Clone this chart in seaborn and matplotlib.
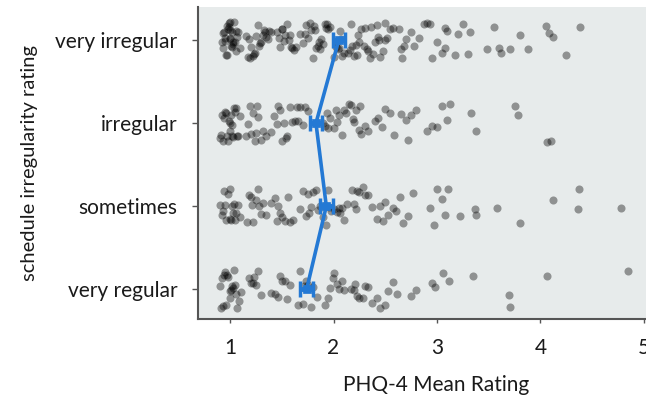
import numpy as np
import pandas as pd
import matplotlib
matplotlib.use("Agg")
import matplotlib.pyplot as plt
import seaborn as sns

categories = ["very irregular", "irregular", "sometimes", "very regular"]

very_irregular = [0.92, 0.93, 0.94, 0.95, 0.96, 0.97, 0.97, 0.98, 0.99, 1.0, 1.0, 1.0, 1.01, 1.02, 1.02, 1.03,
                  1.04, 1.05, 1.06, 1.07, 1.08, 1.1, 0.95, 0.99, 1.03, 1.06, 0.93, 1.0,
                  1.15, 1.17, 1.19, 1.2, 1.22, 1.24, 1.25, 1.27, 1.28, 1.3, 1.32, 1.33, 1.35, 1.37, 1.38, 1.4,
                  1.18, 1.23, 1.29, 1.34,
                  1.45, 1.47, 1.5, 1.5, 1.52, 1.55, 1.57, 1.58, 1.6, 1.62, 1.64, 1.48, 1.53, 1.59,
                  1.68, 1.7, 1.72, 1.75, 1.77, 1.78, 1.8, 1.82, 1.83, 1.85, 1.87, 1.88, 1.9, 1.92, 1.94, 1.95, 1.97,
                  1.73, 1.81, 1.86, 1.93,
                  2.0, 2.02, 2.03, 2.05, 2.06, 2.08, 2.1, 2.04, 2.07,
                  2.14, 2.16, 2.18, 2.2, 2.22, 2.24, 2.25, 2.27, 2.3, 2.32, 2.33, 2.35, 2.38, 2.4, 2.42, 2.44,
                  2.45, 2.48, 2.5, 2.52, 2.55, 2.57, 2.17, 2.23, 2.29, 2.36, 2.43, 2.5,
                  2.63, 2.65, 2.68, 2.7, 2.75, 2.78, 2.66,
                  2.83, 2.87, 2.9, 2.93, 2.95, 3.0, 3.05, 3.08, 3.1, 3.08,
                  3.17, 3.2, 3.25, 3.3, 3.32,
                  3.48, 3.55, 3.6, 3.62, 3.71, 3.8, 3.88, 4.05, 4.08, 4.12, 4.25, 4.38]

irregular = [0.9, 0.91, 0.93, 0.94, 0.95, 0.96, 0.97, 0.98, 1.0, 1.0, 1.01, 1.02, 1.03, 1.04, 1.05, 1.07, 1.08, 1.1,
             0.92, 0.99, 1.02, 1.06,
             1.15, 1.17, 1.2, 1.22, 1.24, 1.25, 1.27, 1.3, 1.32, 1.35, 1.19, 1.26,
             1.4, 1.42, 1.45, 1.48, 1.5, 1.52, 1.55, 1.58, 1.6, 1.46, 1.54,
             1.63, 1.65, 1.68, 1.7, 1.72, 1.75, 1.66,
             1.9, 1.92, 1.95, 1.97, 2.0, 2.02, 2.05, 2.08, 2.1, 2.12, 1.94, 2.03,
             2.15, 2.17, 2.2, 2.22, 2.25, 2.27, 2.3, 2.33, 2.19, 2.26,
             2.4, 2.43, 2.47, 2.5, 2.55, 2.58,
             2.65, 2.7, 2.72, 2.75, 2.8,
             2.9, 2.95, 3.0, 3.05, 3.1, 3.13,
             3.33, 3.38, 3.75, 3.78, 4.06, 4.1]

sometimes = [0.9, 0.92, 0.93, 0.95, 0.96, 0.98, 1.0, 1.0, 1.01, 1.03, 1.04, 1.06, 1.08, 1.1, 0.94, 1.02, 1.05,
             1.16, 1.18, 1.2, 1.22, 1.25, 1.27, 1.3, 1.32, 1.35, 1.21, 1.28,
             1.4, 1.43, 1.45, 1.48, 1.5, 1.53, 1.56, 1.58, 1.61, 1.46,
             1.68, 1.7, 1.73, 1.75, 1.78, 1.8, 1.83, 1.85, 1.87, 1.76,
             1.9, 1.93, 1.95, 1.98, 2.0, 2.03, 2.05, 2.08, 2.1, 2.13, 1.96, 2.06,
             2.18, 2.2, 2.23, 2.25, 2.28, 2.3, 2.33, 2.37, 2.22,
             2.42, 2.45, 2.48, 2.5, 2.53, 2.57, 2.6, 2.64,
             2.67, 2.72, 2.77,
             2.93, 2.97, 3.0, 3.05, 3.08, 3.11,
             3.22, 3.37, 3.38, 3.58, 3.8, 4.12, 4.36, 4.37, 4.78]

very_regular = [0.9, 0.91, 0.93, 0.94, 0.95, 0.97, 0.98, 1.0, 1.0, 1.01, 1.03, 1.04, 1.05, 1.07, 1.09, 1.11,
                0.92, 0.96, 1.02, 1.06,
                1.18, 1.2, 1.22, 1.25, 1.27, 1.3, 1.23,
                1.4, 1.43, 1.46, 1.5, 1.53, 1.55, 1.58, 1.48,
                1.66, 1.68, 1.7, 1.73, 1.75, 1.78, 1.8, 1.84, 1.71,
                1.92, 1.95, 1.97, 2.0, 2.03, 2.05, 2.08, 2.1, 1.99,
                2.17, 2.2, 2.23, 2.25, 2.28, 2.3, 2.33, 2.37, 2.21,
                2.42, 2.45, 2.5, 2.53, 2.57, 2.61,
                2.75, 2.8, 2.95, 2.98, 3.06, 3.12, 3.35, 3.7, 3.71, 4.06, 4.85]

group_means = [2.05, 1.83, 1.93, 1.74]
group_ci = [0.06, 0.06, 0.06, 0.06]

xticks = [1, 2, 3, 4, 5]
xlabel = "PHQ-4 Mean Rating"
ylabel = "schedule irregularity rating"

values = [very_irregular, irregular, sometimes, very_regular]
df = pd.DataFrame({
    "rating": [v for vals in values for v in vals],
    "group": [c for c, vals in zip(categories, values) for _ in vals],
})
means_df = pd.DataFrame({"group": categories, "mean": group_means})

sns.set_style("ticks")
plt.rcParams["font.family"] = ["Lato", "DejaVu Sans"]

fig = plt.figure(figsize=(6.46, 3.95), dpi=100)
ax = fig.add_axes([198 / 646, (395 - 319) / 395, 477 / 646, 312 / 395])
ax.set_facecolor("#e7ebeb")

np.random.seed(3)
sns.stripplot(data=df, x="rating", y="group", order=categories, ax=ax,
              color="black", alpha=0.38, size=5.8, jitter=0.23, linewidth=0, zorder=2)

blue = "#2479d4"
sns.pointplot(data=means_df, x="mean", y="group", order=categories, ax=ax,
              color=blue, errorbar=None, markers="s", markersize=5,
              linewidth=2.6, native_scale=False)
ax.errorbar(group_means, list(range(len(categories))), xerr=group_ci, fmt="none",
            ecolor=blue, elinewidth=3.5, capsize=5.5, capthick=2.5, zorder=5)

ax.set_xlim(0.69, 5.3)
ax.set_ylim(3.36, -0.4)
ax.set_xticks(xticks)
ax.set_xticklabels([str(t) for t in xticks])
ax.set_xlabel(xlabel, fontsize=15, color="#1a1a1a", labelpad=12)
ax.set_ylabel(ylabel, fontsize=14.5, color="#1a1a1a", labelpad=12)
ax.tick_params(axis="x", labelsize=15, colors="#555555", length=3, width=1, pad=11, labelcolor="#1a1a1a")
ax.tick_params(axis="y", labelsize=15, colors="#555555", length=4, width=1, pad=11, labelcolor="#1a1a1a")

for s in ["top", "right"]:
    ax.spines[s].set_visible(False)
for s in ["left", "bottom"]:
    ax.spines[s].set_color("#555555")
    ax.spines[s].set_linewidth(1.5)

fig.savefig("out.png", dpi=100)
